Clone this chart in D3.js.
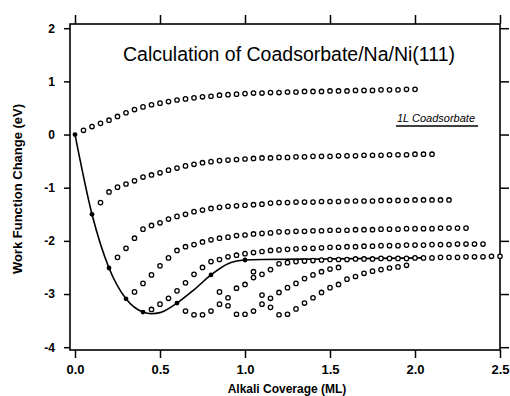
<!DOCTYPE html>
<html>
<head>
<meta charset="utf-8">
<script src="https://cdn.jsdelivr.net/npm/d3@7"></script>
<style>
  html, body { margin: 0; padding: 0; background: #fff; }
  svg { display: block; }
</style>
</head>
<body>
<div id="chart"></div>
<script>
// Alkali coverage steps (ML) shared by every dotted series
const coverage = [0.00, 0.05, 0.10, 0.15, 0.20, 0.25, 0.30, 0.35, 0.40, 0.45,
    0.50, 0.55, 0.60, 0.65, 0.70, 0.75, 0.80, 0.85, 0.90, 0.95,
    1.00, 1.05, 1.10, 1.15, 1.20, 1.25, 1.30, 1.35, 1.40, 1.45,
    1.50, 1.55, 1.60, 1.65, 1.70, 1.75, 1.80, 1.85, 1.90, 1.95,
    2.00, 2.05, 2.10, 2.15, 2.20, 2.25, 2.30, 2.35, 2.40, 2.45, 2.50];

// index into coverage where each dotted series starts
const seriesFrom = [1, 3, 5, 7, 9, 13, 17, 21];

// work function change (eV) of each coadsorbate series
const seriesA = [0.08, 0.15, 0.21, 0.27, 0.34, 0.41, 0.47, 0.52, 0.56, 0.59,
    0.62, 0.65, 0.67, 0.69, 0.71, 0.72, 0.74, 0.75, 0.76, 0.77,
    0.78, 0.78, 0.79, 0.79, 0.80, 0.80, 0.81, 0.81, 0.81, 0.82,
    0.82, 0.82, 0.83, 0.83, 0.83, 0.84, 0.84, 0.84, 0.85, 0.85];
const seriesB = [-1.28, -1.08, -0.99, -0.93, -0.87, -0.80, -0.76, -0.72, -0.67, -0.63,
    -0.59, -0.56, -0.53, -0.51, -0.49, -0.48, -0.47, -0.46, -0.45, -0.44,
    -0.44, -0.43, -0.43, -0.42, -0.42, -0.41, -0.41, -0.41, -0.40, -0.40,
    -0.40, -0.39, -0.39, -0.39, -0.38, -0.38, -0.38, -0.37, -0.37, -0.37];
const seriesC = [-2.31, -2.14, -1.95, -1.78, -1.71, -1.66, -1.59, -1.54, -1.50, -1.45,
    -1.42, -1.39, -1.37, -1.35, -1.34, -1.33, -1.32, -1.31, -1.29, -1.28,
    -1.28, -1.27, -1.27, -1.27, -1.26, -1.26, -1.26, -1.25, -1.25, -1.25,
    -1.25, -1.24, -1.24, -1.24, -1.24, -1.23, -1.23, -1.23, -1.23, -1.23];
const seriesD = [-2.96, -2.80, -2.64, -2.47, -2.32, -2.18, -2.11, -2.07, -2.02, -1.98,
    -1.95, -1.93, -1.90, -1.89, -1.87, -1.86, -1.85, -1.83, -1.83, -1.82,
    -1.82, -1.81, -1.81, -1.80, -1.80, -1.80, -1.79, -1.79, -1.79, -1.78,
    -1.78, -1.78, -1.77, -1.77, -1.77, -1.77, -1.76, -1.76, -1.76, -1.76];
const seriesE = [-3.29, -3.19, -3.08, -2.94, -2.79, -2.63, -2.50, -2.39, -2.35, -2.30,
    -2.27, -2.24, -2.22, -2.20, -2.18, -2.17, -2.16, -2.15, -2.14, -2.14,
    -2.13, -2.12, -2.12, -2.11, -2.11, -2.10, -2.10, -2.09, -2.09, -2.09,
    -2.08, -2.08, -2.08, -2.07, -2.07, -2.07, -2.06, -2.06, -2.06, -2.06];
const seriesF = [-3.32, -3.39, -3.39, -3.32, -3.19, -3.07, -2.89, -2.82, -2.69, -2.63,
    -2.54, -2.43, -2.41, -2.39, -2.38, -2.37, -2.36, -2.35, -2.35, -2.35,
    -2.34, -2.34, -2.34, -2.33, -2.33, -2.33, -2.33, -2.32, -2.32, -2.32,
    -2.31, -2.31, -2.31, -2.30, -2.30, -2.30, -2.29, -2.29];
const seriesG = [-2.96, -3.22, -3.38, -3.38, -3.32, -3.19, -3.08, -2.97, -2.88, -2.80,
    -2.71, -2.64, -2.58, -2.53, -2.50];
const seriesH = [-2.58, -3.02, -3.25, -3.39, -3.38, -3.28, -3.17, -3.07, -2.97, -2.88,
    -2.82, -2.72, -2.67, -2.61, -2.57, -2.54, -2.51, -2.49, -2.46];

// clean Na/Ni(111) curve (solid line) and its marked points
const lineX = [0, 0.1, 0.2, 0.3, 0.4, 0.45, 0.5, 0.6, 0.7, 0.8, 0.9, 1.0, 1.1, 1.5, 2.05];
const lineY = [0, -1.50, -2.51, -3.09, -3.34, -3.37, -3.35, -3.17, -2.92, -2.64, -2.43, -2.36, -2.35, -2.34, -2.32];
const markX = [0, 0.1, 0.2, 0.3, 0.4, 0.6, 0.8, 1.0];
const markY = [0, -1.50, -2.51, -3.09, -3.34, -3.17, -2.64, -2.36];

const xTicks = [0, 0.5, 1.0, 1.5, 2.0, 2.5];
const yTicks = [2, 1, 0, -1, -2, -3, -4];

const width = 510, height = 396;
const frame = {left: 70, right: 500, top: 24, bottom: 350};

const svg = d3.select("#chart")
    .append("svg")
    .attr("width", width)
    .attr("height", height)
    .style("font-family", "'Liberation Sans', Arial, Helvetica, sans-serif");

const xScale = d3.scaleLinear().domain([0, 2.5]).range([75, 500]);
const yScale = d3.scaleLinear().domain([-4, 2]).range([347.2, 28.2]);

// frame
svg.append("rect")
    .attr("x", frame.left)
    .attr("y", frame.top)
    .attr("width", frame.right - frame.left)
    .attr("height", frame.bottom - frame.top)
    .attr("fill", "none")
    .attr("stroke", "#000")
    .attr("stroke-width", 1.6);

// axes
const axisBottom = svg.append("g")
    .attr("transform", `translate(0,${frame.bottom})`)
    .call(d3.axisBottom(xScale).tickValues(xTicks).tickSize(8).tickPadding(7).tickFormat(d3.format(".1f")));
const axisTop = svg.append("g")
    .attr("transform", `translate(0,${frame.top})`)
    .call(d3.axisTop(xScale).tickValues(xTicks).tickSize(9).tickFormat(""));
const axisLeft = svg.append("g")
    .attr("transform", `translate(${frame.left},0)`)
    .call(d3.axisLeft(yScale).tickValues(yTicks).tickSize(6).tickPadding(9).tickFormat(d => String(d)));
const axisRight = svg.append("g")
    .attr("transform", `translate(${frame.right},0)`)
    .call(d3.axisRight(yScale).tickValues(yTicks).tickSize(9).tickFormat(""));

[axisBottom, axisTop, axisLeft, axisRight].forEach(g => {
    g.select(".domain").remove();
    g.selectAll(".tick line").attr("stroke", "#000").attr("stroke-width", 1.5);
    g.selectAll(".tick text")
        .attr("fill", "#000")
        .style("font-size", "13px")
        .style("font-weight", "bold");
});
axisLeft.selectAll(".tick text").style("font-size", "12px");

// solid curve
const line = d3.line()
    .x(d => xScale(d[0]))
    .y(d => yScale(d[1]))
    .curve(d3.curveMonotoneX);

svg.append("path")
    .datum(lineX.map((x, i) => [x, lineY[i]]))
    .attr("d", line)
    .attr("fill", "none")
    .attr("stroke", "#000")
    .attr("stroke-width", 1.6);

// open-circle series
const allSeries = [seriesA, seriesB, seriesC, seriesD, seriesE, seriesF, seriesG, seriesH];
allSeries.forEach((values, s) => {
    svg.append("g")
        .selectAll("circle")
        .data(values.map((v, i) => [coverage[seriesFrom[s] + i], v]))
        .enter().append("circle")
        .attr("cx", d => xScale(d[0]))
        .attr("cy", d => yScale(d[1]))
        .attr("r", 2.2)
        .attr("fill", "#fff")
        .attr("stroke", "#000")
        .attr("stroke-width", 1.3);
});

// filled points on the solid curve
svg.append("g")
    .selectAll("circle")
    .data(markX.map((x, i) => [x, markY[i]]))
    .enter().append("circle")
    .attr("cx", d => xScale(d[0]))
    .attr("cy", d => yScale(d[1]))
    .attr("r", 2.4)
    .attr("fill", "#000");

// title
svg.append("text")
    .attr("x", 289)
    .attr("y", 61)
    .attr("text-anchor", "middle")
    .style("font-size", "19.5px")
    .text("Calculation of Coadsorbate/Na/Ni(111)");

// legend label
svg.append("text")
    .attr("x", 436)
    .attr("y", 122)
    .attr("text-anchor", "middle")
    .style("font-size", "11px")
    .style("font-style", "italic")
    .text("1L Coadsorbate");
svg.append("line")
    .attr("x1", 396).attr("x2", 478)
    .attr("y1", 126).attr("y2", 126)
    .attr("stroke", "#000")
    .attr("stroke-width", 1.5);

// axis titles
svg.append("text")
    .attr("x", 287)
    .attr("y", 393)
    .attr("text-anchor", "middle")
    .style("font-size", "12px")
    .style("font-weight", "bold")
    .text("Alkali Coverage (ML)");

svg.append("text")
    .attr("transform", "rotate(-90)")
    .attr("x", -189)
    .attr("y", 22)
    .attr("text-anchor", "middle")
    .style("font-size", "13px")
    .style("font-weight", "bold")
    .text("Work Function Change (eV)");
</script>
</body>
</html>
